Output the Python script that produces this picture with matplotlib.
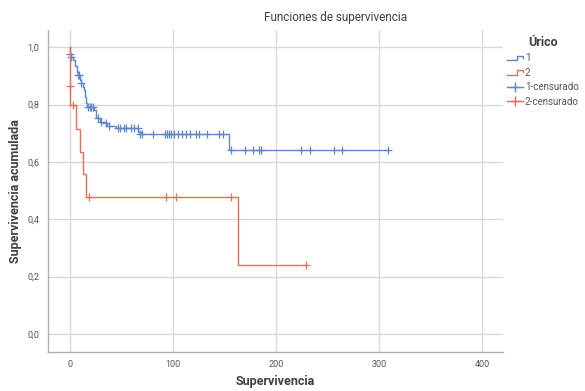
import matplotlib
matplotlib.use("Agg")
import matplotlib.pyplot as plt
from matplotlib.lines import Line2D
from matplotlib.legend_handler import HandlerBase

plt.rcParams['font.family'] = ['Roboto', 'DejaVu Sans']

# Group 1 (blue) step curve
blue_time = [0, 0.5, 1, 3, 5, 7, 8, 10, 11, 13, 14, 15, 16, 17, 24, 26, 29, 34, 36, 45, 66, 70, 154, 308]
blue_surv = [1.0, 0.978, 0.966, 0.955, 0.933, 0.914, 0.903, 0.886, 0.874, 0.862, 0.851, 0.828, 0.805,
             0.793, 0.782, 0.753, 0.741, 0.735, 0.726, 0.718, 0.706, 0.697, 0.640, 0.640]
# Group 1 censored observations
blue_cens_time = [0.5, 1.5, 8, 9, 11, 18, 20, 21, 23, 27, 30, 35, 38, 47, 49, 53, 55, 59, 62, 66,
                  68, 70, 81, 92, 94, 96, 98, 101, 105, 109, 113, 117, 122, 125, 133, 145, 149,
                  156, 170, 178, 183, 185, 224, 233, 256, 264, 308]
blue_cens_surv = [0.978, 0.966, 0.903, 0.903, 0.874, 0.793, 0.793, 0.793, 0.793, 0.753, 0.741, 0.735,
                  0.726, 0.718, 0.718, 0.718, 0.718, 0.718, 0.718, 0.718,
                  0.697, 0.697, 0.697, 0.697, 0.697, 0.697, 0.697, 0.697, 0.697, 0.697, 0.697,
                  0.697, 0.697, 0.697, 0.697, 0.697, 0.697,
                  0.640, 0.640, 0.640, 0.640, 0.640, 0.640, 0.640, 0.640, 0.640, 0.640]

# Group 2 (red) step curve
red_time = [0, 0.3, 0.6, 6.5, 10, 13, 16, 163, 229]
red_surv = [1.0, 0.933, 0.797, 0.716, 0.634, 0.557, 0.479, 0.240, 0.240]
red_cens_time = [0.5, 3, 19, 93, 103, 156, 229]
red_cens_surv = [0.866, 0.797, 0.479, 0.479, 0.479, 0.479, 0.240]

x_ticks = [0, 100, 200, 300, 400]
y_ticks = [0.0, 0.2, 0.4, 0.6, 0.8, 1.0]
legend_labels = ['1', '2', '1-censurado', '2-censurado']

blue = '#5f87c8'
red = '#e5705a'
grid_c = '#d9d9d9'
text_c = '#404040'

fig = plt.figure(figsize=(5.85, 3.91), dpi=100)
ax = fig.add_axes([0.082, 0.1, 0.778, 0.823])

ax.plot(blue_time, blue_surv, drawstyle='steps-post', color=blue, lw=1.0, zorder=3)
ax.plot(red_time, red_surv, drawstyle='steps-post', color=red, lw=1.0, zorder=4)
ax.plot(blue_cens_time, blue_cens_surv, ls='none', marker='+', ms=6, mew=0.9, color=blue, zorder=3)
ax.plot(red_cens_time, red_cens_surv, ls='none', marker='+', ms=6, mew=0.9, color=red, zorder=4)

ax.set_xlim(-21, 420)
ax.set_ylim(-0.063, 1.06)
ax.set_xticks(x_ticks)
ax.set_yticks(y_ticks)
ax.set_yticklabels([f"{v:.1f}".replace('.', ',') for v in y_ticks])
ax.tick_params(length=0, labelsize=6.5, colors='#555555', pad=6)
ax.grid(True, color=grid_c, lw=1.0)
ax.set_axisbelow(True)
for s in ['top', 'right']:
    ax.spines[s].set_visible(False)
for s in ['left', 'bottom']:
    ax.spines[s].set_color('#b0b0b0')
    ax.spines[s].set_linewidth(1.0)

ax.set_xlabel('Supervivencia', fontsize=9, fontweight='bold', color=text_c, labelpad=4)
ax.set_ylabel('Supervivencia acumulada', fontsize=9, fontweight='bold', color=text_c, labelpad=4)
fig.text(0.573, 0.955, 'Funciones de supervivencia', ha='center', va='center',
         fontsize=8.5, color=text_c)


class StepHandler(HandlerBase):
    def create_artists(self, legend, orig_handle, xdescent, ydescent, width, height, fontsize, trans):
        xs = [-xdescent, -xdescent + 0.6 * width, -xdescent + 0.6 * width, -xdescent + width, -xdescent + width]
        ys = [-ydescent + 0.15 * height, -ydescent + 0.15 * height, -ydescent + 0.85 * height,
              -ydescent + 0.85 * height, -ydescent + 0.5 * height]
        ln = Line2D(xs, ys, color=orig_handle.get_color(), lw=1.0, transform=trans)
        return [ln]


h1 = Line2D([], [], color=blue)
h2 = Line2D([], [], color=red)
h3 = Line2D([], [], color=blue, marker='+', ms=7, lw=1.0)
h4 = Line2D([], [], color=red, marker='+', ms=7, lw=1.0)
leg = fig.legend([h1, h2, h3, h4], legend_labels, loc='upper left',
                 bbox_to_anchor=(0.852, 0.93), frameon=False, fontsize=7,
                 title='Úrico', handlelength=1.6, handletextpad=0.2, labelspacing=0.45,
                 handler_map={h1: StepHandler(), h2: StepHandler()})
leg.get_title().set_fontweight('bold')
leg.get_title().set_fontsize(9)
leg.get_title().set_color(text_c)
for t in leg.get_texts():
    t.set_color('#555555')

fig.savefig('out.png', dpi=100)
